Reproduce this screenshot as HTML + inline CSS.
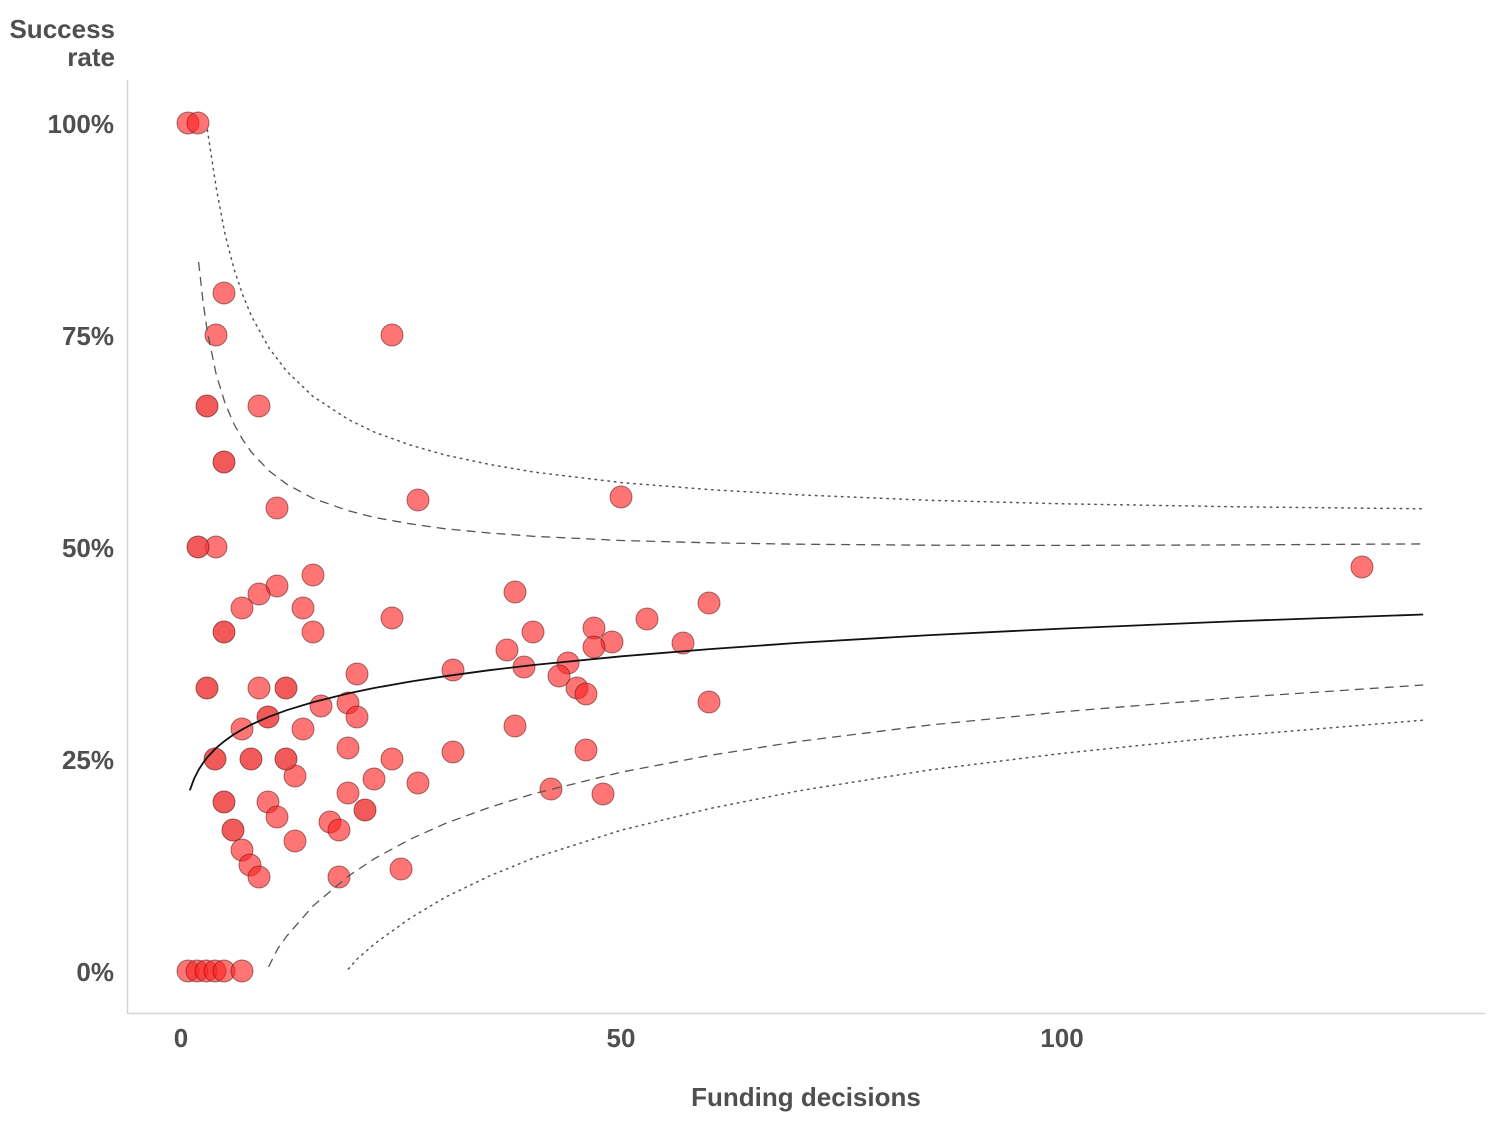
<!DOCTYPE html>
<html><head><meta charset="utf-8"><style>
html,body{margin:0;padding:0;background:#fff;}
svg{display:block;}
text{font-family:"Liberation Sans",Arial,sans-serif;font-weight:bold;fill:#4f4f4f;font-size:26px;}
</style></head><body>
<svg width="1500" height="1125" viewBox="0 0 1500 1125" xmlns="http://www.w3.org/2000/svg">
<rect width="1500" height="1125" fill="#fff"/>
<line x1="127.5" y1="80" x2="127.5" y2="1013.5" stroke="#d4d4d4" stroke-width="1.5"/>
<line x1="127" y1="1013.5" x2="1485" y2="1013.5" stroke="#d4d4d4" stroke-width="1.5"/>
<text x="115" y="38" text-anchor="end">Success</text>
<text x="115" y="66" text-anchor="end">rate</text>
<text x="114" y="133" text-anchor="end">100%</text>
<text x="114" y="345" text-anchor="end">75%</text>
<text x="114" y="557" text-anchor="end">50%</text>
<text x="114" y="769" text-anchor="end">25%</text>
<text x="114" y="981" text-anchor="end">0%</text>
<text x="181" y="1047" text-anchor="middle">0</text>
<text x="621" y="1047" text-anchor="middle">50</text>
<text x="1062" y="1047" text-anchor="middle">100</text>
<text x="806" y="1106" text-anchor="middle">Funding decisions</text>
<g fill="#ff2020" fill-opacity="0.62" stroke="#5a1515" stroke-opacity="0.55" stroke-width="1">
<circle cx="188" cy="123" r="11"/>
<circle cx="198" cy="123" r="11"/>
<circle cx="224" cy="293" r="11"/>
<circle cx="216" cy="335" r="11"/>
<circle cx="392" cy="335" r="11"/>
<circle cx="259" cy="406" r="11"/>
<circle cx="418" cy="500" r="11"/>
<circle cx="621" cy="497" r="11"/>
<circle cx="277" cy="508" r="11"/>
<circle cx="216" cy="547" r="11"/>
<circle cx="1362" cy="567" r="11"/>
<circle cx="313" cy="575" r="11"/>
<circle cx="277" cy="586" r="11"/>
<circle cx="259" cy="594" r="11"/>
<circle cx="242" cy="608" r="11"/>
<circle cx="303" cy="608" r="11"/>
<circle cx="515" cy="592" r="11"/>
<circle cx="709" cy="603" r="11"/>
<circle cx="313" cy="632" r="11"/>
<circle cx="392" cy="618" r="11"/>
<circle cx="533" cy="632" r="11"/>
<circle cx="647" cy="619" r="11"/>
<circle cx="594" cy="628" r="11"/>
<circle cx="612" cy="642" r="11"/>
<circle cx="594" cy="647" r="11"/>
<circle cx="683" cy="643" r="11"/>
<circle cx="507" cy="650" r="11"/>
<circle cx="259" cy="688" r="11"/>
<circle cx="357" cy="674" r="11"/>
<circle cx="453" cy="670" r="11"/>
<circle cx="524" cy="667" r="11"/>
<circle cx="568" cy="663" r="11"/>
<circle cx="559" cy="676" r="11"/>
<circle cx="577" cy="688" r="11"/>
<circle cx="586" cy="694" r="11"/>
<circle cx="709" cy="702" r="11"/>
<circle cx="321" cy="706" r="11"/>
<circle cx="348" cy="703" r="11"/>
<circle cx="357" cy="717" r="11"/>
<circle cx="242" cy="729" r="11"/>
<circle cx="303" cy="729" r="11"/>
<circle cx="515" cy="726" r="11"/>
<circle cx="392" cy="759" r="11"/>
<circle cx="348" cy="748" r="11"/>
<circle cx="453" cy="752" r="11"/>
<circle cx="586" cy="750" r="11"/>
<circle cx="295" cy="776" r="11"/>
<circle cx="374" cy="779" r="11"/>
<circle cx="418" cy="783" r="11"/>
<circle cx="551" cy="789" r="11"/>
<circle cx="603" cy="794" r="11"/>
<circle cx="268" cy="802" r="11"/>
<circle cx="348" cy="793" r="11"/>
<circle cx="277" cy="817" r="11"/>
<circle cx="330" cy="822" r="11"/>
<circle cx="339" cy="830" r="11"/>
<circle cx="295" cy="841" r="11"/>
<circle cx="242" cy="850" r="11"/>
<circle cx="250" cy="865" r="11"/>
<circle cx="259" cy="877" r="11"/>
<circle cx="339" cy="877" r="11"/>
<circle cx="401" cy="869" r="11"/>
<circle cx="188" cy="971" r="11"/>
<circle cx="197" cy="971" r="11"/>
<circle cx="206" cy="971" r="11"/>
<circle cx="215" cy="971" r="11"/>
<circle cx="224" cy="971" r="11"/>
<circle cx="242" cy="971" r="11"/>
</g>
<g fill="#f03c3c" fill-opacity="0.85" stroke="#5a1515" stroke-opacity="0.6" stroke-width="1">
<circle cx="207" cy="406" r="11"/>
<circle cx="224" cy="462" r="11"/>
<circle cx="198" cy="547" r="11"/>
<circle cx="224" cy="632" r="11"/>
<circle cx="207" cy="688" r="11"/>
<circle cx="286" cy="688" r="11"/>
<circle cx="268" cy="717" r="11"/>
<circle cx="215" cy="759" r="11"/>
<circle cx="286" cy="759" r="11"/>
<circle cx="224" cy="802" r="11"/>
<circle cx="365" cy="810" r="11"/>
<circle cx="233" cy="830" r="11"/>
<circle cx="251" cy="759" r="11"/>
</g>
<polyline fill="none" stroke="#111" stroke-width="1.8" stroke-linejoin="round" points="189.8,790.3 194.2,778.5 198.6,769.9 203.0,763.0 207.4,757.2 216.2,747.9 225.1,740.6 233.9,734.4 242.7,729.2 251.5,724.5 269.1,716.7 286.7,710.2 313.2,702.1 348.4,693.4 374.8,687.9 410.1,681.6 445.3,676.2 489.4,670.2 533.4,665.0 621.5,656.3 709.6,649.1 797.7,642.9 929.9,635.1 1062,628.6 1238.2,621.1 1423.2,614.5"/>
<polyline fill="none" stroke="#555" stroke-width="1.3" stroke-dasharray="9 6" points="198.6,262 203.0,301.5 207.4,332.0 216.2,374.4 225.1,403.3 233.9,423.9 242.7,439.6 251.5,452.3 269.1,470.9 286.7,484.2 313.2,498.4 348.4,510.8 374.8,517.5 410.1,523.8 445.3,528.8 489.4,533.0 533.4,536.3 621.5,540.5 709.6,542.8 797.7,544.2 929.9,545.2 1062,545.4 1238.2,544.9 1423.2,543.9"/>
<polyline fill="none" stroke="#555" stroke-width="1.3" stroke-dasharray="9 6" points="268.5,967 277.9,948.5 286.7,936.1 313.2,905.8 348.4,876.1 374.8,858.4 410.1,839.3 445.3,823.5 489.4,807.4 533.4,793.8 621.5,772.1 709.6,755.4 797.7,741.6 929.9,725.0 1062,711.8 1238.2,697.4 1423.2,685.0"/>
<polyline fill="none" stroke="#555" stroke-width="1.5" stroke-dasharray="1.5 5" stroke-linecap="round" points="207.4,130 216.2,187.7 225.1,234.6 233.9,268.6 242.7,294.9 251.5,316.2 269.1,348.1 286.7,371.3 313.2,396.6 348.4,419.5 374.8,432.3 410.1,445.0 445.3,455.1 489.4,464.4 533.4,472.0 621.5,482.6 709.6,489.6 797.7,494.8 929.9,500.3 1062,503.8 1238.2,506.8 1423.2,508.8"/>
<polyline fill="none" stroke="#555" stroke-width="1.5" stroke-dasharray="1.5 5" stroke-linecap="round" points="348.4,969 357.2,958.9 374.8,943.6 410.1,918.2 445.3,897.2 489.4,876.0 533.4,858.1 621.5,830.1 709.6,808.6 797.7,791.0 929.9,769.9 1062,753.4 1238.2,735.4 1423.2,720.2"/>
</svg>
</body></html>
